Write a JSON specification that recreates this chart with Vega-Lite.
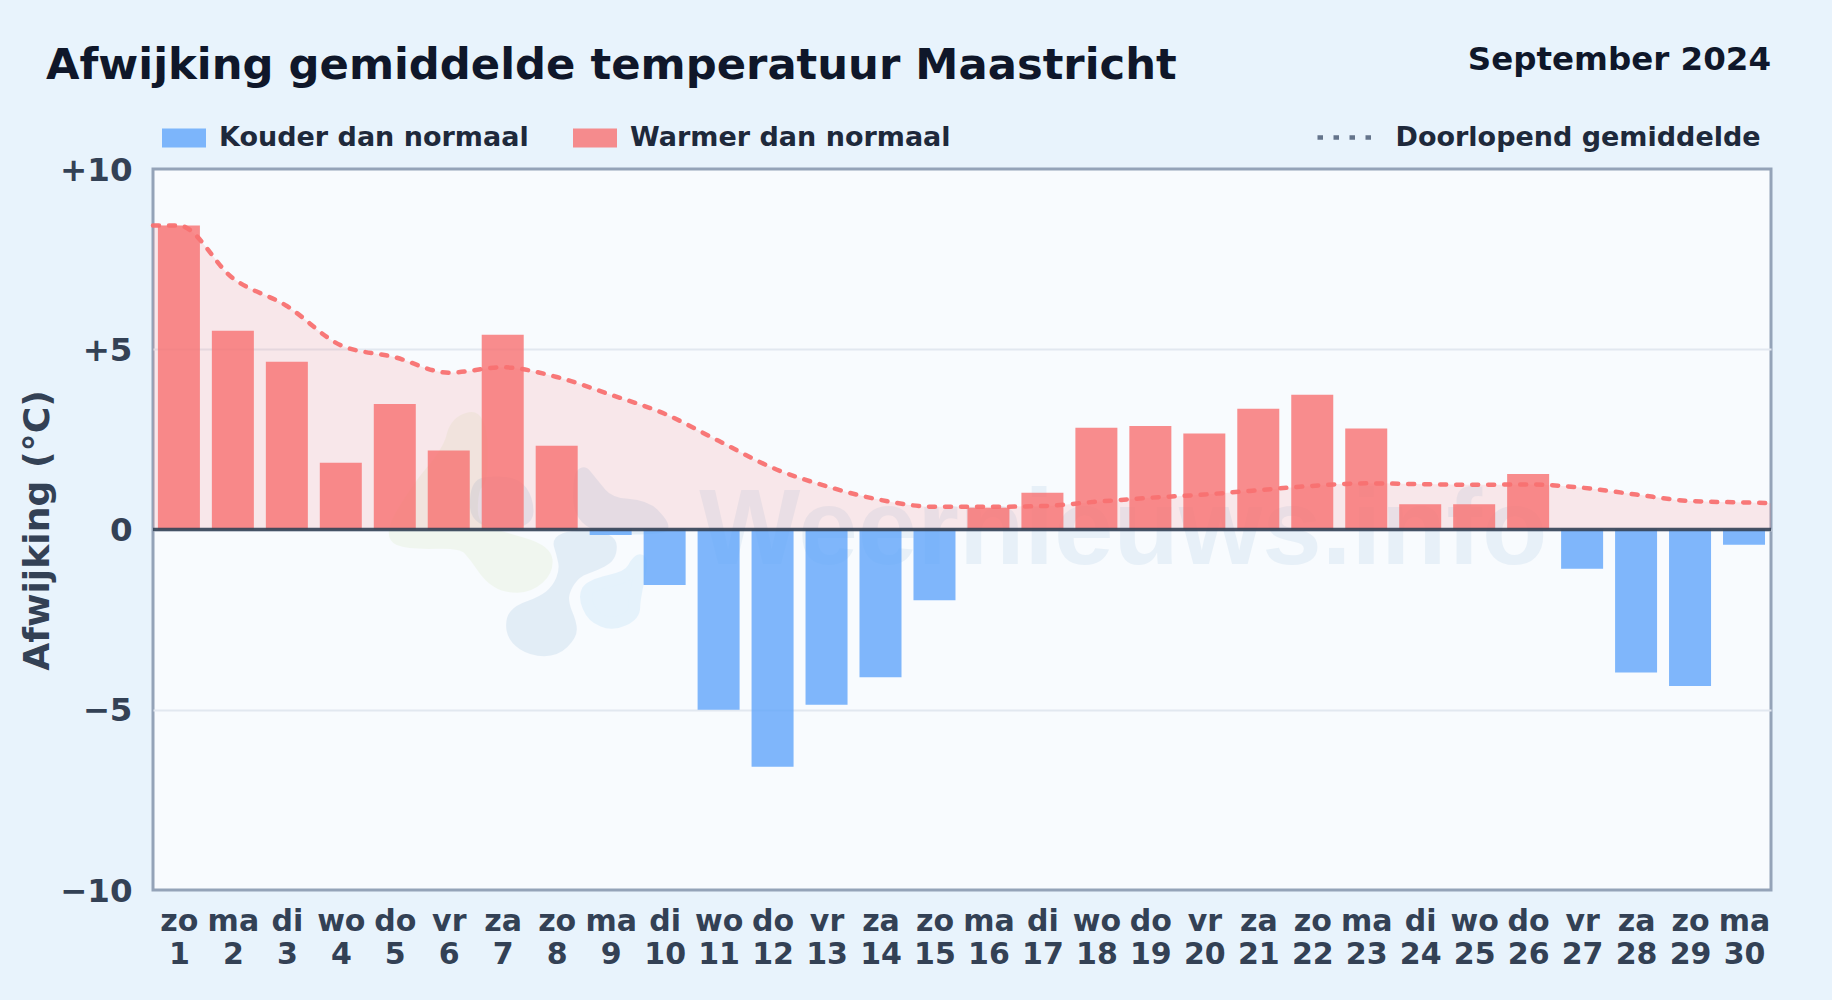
{
"$schema":"https://vega.github.io/schema/vega-lite/v6.json",
"autosize":{"type":"none"},
"width":1618,"height":721,
"padding":{"left":153,"top":169,"right":61,"bottom":110},
"background":"#e8f3fc",
"view":{"fill":"#f8fbfe","stroke":"#94a3b8","strokeWidth":3},
"title":{"text":"Afwijking gemiddelde temperatuur Maastricht","anchor":"start","frame":"group","dx":-107,"dy":79,"baseline":"alphabetic","offset":0,"font":"DejaVu Sans","fontSize":43.3,"fontWeight":"bold","color":"#0f172a"},
"datasets":{
"days":[
{"day":1,"dow":"zo","afwijking":8.43,"soort":"Warmer dan normaal"},
{"day":2,"dow":"ma","afwijking":5.51,"soort":"Warmer dan normaal"},
{"day":3,"dow":"di","afwijking":4.65,"soort":"Warmer dan normaal"},
{"day":4,"dow":"wo","afwijking":1.85,"soort":"Warmer dan normaal"},
{"day":5,"dow":"do","afwijking":3.48,"soort":"Warmer dan normaal"},
{"day":6,"dow":"vr","afwijking":2.19,"soort":"Warmer dan normaal"},
{"day":7,"dow":"za","afwijking":5.4,"soort":"Warmer dan normaal"},
{"day":8,"dow":"zo","afwijking":2.32,"soort":"Warmer dan normaal"},
{"day":9,"dow":"ma","afwijking":-0.15,"soort":"Kouder dan normaal"},
{"day":10,"dow":"di","afwijking":-1.54,"soort":"Kouder dan normaal"},
{"day":11,"dow":"wo","afwijking":-5.0,"soort":"Kouder dan normaal"},
{"day":12,"dow":"do","afwijking":-6.58,"soort":"Kouder dan normaal"},
{"day":13,"dow":"vr","afwijking":-4.86,"soort":"Kouder dan normaal"},
{"day":14,"dow":"za","afwijking":-4.1,"soort":"Kouder dan normaal"},
{"day":15,"dow":"zo","afwijking":-1.96,"soort":"Kouder dan normaal"},
{"day":16,"dow":"ma","afwijking":0.6,"soort":"Warmer dan normaal"},
{"day":17,"dow":"di","afwijking":1.02,"soort":"Warmer dan normaal"},
{"day":18,"dow":"wo","afwijking":2.82,"soort":"Warmer dan normaal"},
{"day":19,"dow":"do","afwijking":2.87,"soort":"Warmer dan normaal"},
{"day":20,"dow":"vr","afwijking":2.66,"soort":"Warmer dan normaal"},
{"day":21,"dow":"za","afwijking":3.35,"soort":"Warmer dan normaal"},
{"day":22,"dow":"zo","afwijking":3.74,"soort":"Warmer dan normaal"},
{"day":23,"dow":"ma","afwijking":2.8,"soort":"Warmer dan normaal"},
{"day":24,"dow":"di","afwijking":0.7,"soort":"Warmer dan normaal"},
{"day":25,"dow":"wo","afwijking":0.7,"soort":"Warmer dan normaal"},
{"day":26,"dow":"do","afwijking":1.54,"soort":"Warmer dan normaal"},
{"day":27,"dow":"vr","afwijking":-1.09,"soort":"Kouder dan normaal"},
{"day":28,"dow":"za","afwijking":-3.97,"soort":"Kouder dan normaal"},
{"day":29,"dow":"zo","afwijking":-4.34,"soort":"Kouder dan normaal"},
{"day":30,"dow":"ma","afwijking":-0.42,"soort":"Kouder dan normaal"}
],
"mean":[
{"day":0.52,"gemiddelde":8.43},{"day":1,"gemiddelde":8.43},{"day":2,"gemiddelde":6.97},{"day":3,"gemiddelde":6.2},{"day":4,"gemiddelde":5.11},{"day":5,"gemiddelde":4.78},{"day":6,"gemiddelde":4.35},{"day":7,"gemiddelde":4.5},{"day":8,"gemiddelde":4.23},{"day":9,"gemiddelde":3.74},{"day":10,"gemiddelde":3.21},{"day":11,"gemiddelde":2.46},{"day":12,"gemiddelde":1.71},{"day":13,"gemiddelde":1.2},{"day":14,"gemiddelde":0.82},{"day":15,"gemiddelde":0.63},{"day":16,"gemiddelde":0.63},{"day":17,"gemiddelde":0.65},{"day":18,"gemiddelde":0.77},{"day":19,"gemiddelde":0.88},{"day":20,"gemiddelde":0.97},{"day":21,"gemiddelde":1.09},{"day":22,"gemiddelde":1.21},{"day":23,"gemiddelde":1.28},{"day":24,"gemiddelde":1.26},{"day":25,"gemiddelde":1.24},{"day":26,"gemiddelde":1.25},{"day":27,"gemiddelde":1.16},{"day":28,"gemiddelde":0.97},{"day":29,"gemiddelde":0.79},{"day":30,"gemiddelde":0.75},{"day":30.5,"gemiddelde":0.73}
]
},
"layer":[
{"data":{"values":[{"day":7.86,"v":-0.48}]},
 "mark":{"type":"point","filled":true,"size":0.4444,"opacity":0.1,"fill":"#b2d373","stroke":"#b2d373","strokeWidth":12,"strokeJoin":"round","shape":"M-242,-385Q-205,-395,-202,-298Q-200,-200,-215,-190Q-230,-180,-232,-120Q-235,-60,-192,-45Q-150,-30,-80,-10Q-10,10,-8,40Q-5,70,-32,95Q-60,120,-95,120Q-130,120,-155,105Q-180,90,-200,60Q-220,30,-240,8Q-260,-15,-340,-12Q-420,-10,-450,-22Q-480,-35,-440,-102Q-400,-170,-350,-230Q-300,-290,-290,-332Q-280,-375,-242,-385Z"},
 "encoding":{"x":{"field":"day","type":"quantitative"},"y":{"field":"v","type":"quantitative"}}},
{"data":{"values":[{"day":7.86,"v":-0.48}]},
 "mark":{"type":"point","filled":true,"size":0.4444,"opacity":0.1,"fill":"#3079b9","stroke":"#3079b9","strokeWidth":12,"strokeJoin":"round","shape":"M-200,-188Q-180,-195,-140,-192Q-100,-190,-82,-165Q-65,-140,-65,-105Q-65,-70,-142,-72Q-220,-75,-220,-128Q-220,-180,-200,-188ZM110,-215Q130,-190,155,-160Q180,-130,235,-126Q290,-122,315,-96Q340,-70,340,-62Q340,-55,215,-55Q90,-55,90,-148Q90,-240,110,-215ZM105,-30Q185,-30,185,0Q185,30,160,42Q135,55,108,65Q80,75,62,100Q45,125,42,148Q40,170,52,200Q65,230,65,248Q65,265,42,288Q20,310,-15,310Q-50,310,-78,292Q-105,275,-110,248Q-114,220,-102,205Q-90,190,-55,178Q-20,165,2,148Q25,130,38,100Q50,70,45,45Q40,20,32,-5Q25,-30,105,-30Z"},
 "encoding":{"x":{"field":"day","type":"quantitative"},"y":{"field":"v","type":"quantitative"}}},
{"data":{"values":[{"day":7.86,"v":-0.48}]},
 "mark":{"type":"point","filled":true,"size":0.4444,"opacity":0.1,"fill":"#44abeb","stroke":"#44abeb","strokeWidth":12,"strokeJoin":"round","shape":"M115,132Q125,115,182,102Q240,90,252,65Q265,40,272,40Q280,40,268,100Q255,160,255,182Q255,205,222,220Q190,235,160,222Q130,210,118,180Q105,150,115,132Z"},
 "encoding":{"x":{"field":"day","type":"quantitative"},"y":{"field":"v","type":"quantitative"}}},
{"data":{"values":[{"label":"Weernieuws.info","day":18.5,"v":-0.06}]},
 "mark":{"type":"text","font":"Liberation Sans","fontWeight":"bold","fontSize":107,"align":"center","baseline":"middle","color":"#3079b9","opacity":0.08},
 "encoding":{"x":{"field":"day","type":"quantitative"},"y":{"field":"v","type":"quantitative"},"text":{"field":"label"}}},
{"data":{"name":"mean"},
 "mark":{"type":"area","interpolate":"monotone","fill":"#f87171","opacity":0.14},
 "encoding":{"x":{"field":"day","type":"quantitative"},"y":{"field":"gemiddelde","type":"quantitative"},"y2":{"datum":0}}},
{"data":{"name":"days"},
 "mark":{"type":"bar","size":42,"opacity":0.8},
 "encoding":{
  "x":{"field":"day","type":"quantitative","title":null,
   "scale":{"domain":[0.52,30.5],"nice":false,"zero":false,"padding":0},
   "axis":{"values":[1,2,3,4,5,6,7,8,9,10,11,12,13,14,15,16,17,18,19,20,21,22,23,24,25,26,27,28,29,30],
    "labelExpr":"[['zo','ma','di','wo','do','vr','za'][(datum.value-1)%7], ''+datum.value]",
    "grid":false,"ticks":false,"domain":false,"labelFont":"DejaVu Sans","labelFontSize":30,"labelFontWeight":"bold","labelColor":"#334155","labelPadding":16,"labelOverlap":false,"labelBound":false,"labelFlush":false,"labelBaseline":"top","encoding":{"labels":{"lineHeight":{"value":33}}}}},
  "y":{"field":"afwijking","type":"quantitative","title":"Afwijking (°C)",
   "scale":{"domain":[-10,10],"nice":false},
   "axis":{"values":[-10,-5,0,5,10],"labelExpr":"datum.value>0?'+'+datum.value:(datum.value<0?'−'+(-datum.value):'0')",
    "grid":true,"gridColor":"#e2e8f0","gridWidth":2,"gridOpacity":{"condition":{"test":"abs(datum.value)==10","value":0},"value":1},"ticks":false,"domain":false,"labelFont":"DejaVu Sans","labelFontSize":32.5,"labelFontWeight":"bold","labelColor":"#334155","labelPadding":21,"labelOffset":1,"labelOverlap":false,"labelBound":false,"titleFont":"DejaVu Sans","titleFontSize":36.2,"titleFontWeight":"bold","titleColor":"#334155","titleX":-96.5,"titleY":361}},
  "color":{"field":"soort","type":"nominal","title":null,
   "scale":{"domain":["Kouder dan normaal","Warmer dan normaal"],"range":["#60a5fa","#f87171"]},
   "legend":{"orient":"none","legendX":8,"legendY":-54,"direction":"horizontal","columns":2,"columnPadding":43,"symbolType":"M-1,-0.43H1V0.43H-1Z","symbolSize":1936,"labelFont":"DejaVu Sans","labelFontSize":27,"labelFontWeight":"bold","labelColor":"#1e293b","labelOffset":12,"labelLimit":800}}
 }},
{"data":{"values":[{"nul":0}]},
 "mark":{"type":"rule","color":"#334155","strokeWidth":3.4,"opacity":0.9},
 "encoding":{"y":{"field":"nul","type":"quantitative"}}},
{"data":{"name":"mean"},
 "mark":{"type":"line","interpolate":"monotone","stroke":"#f87171","strokeWidth":4.5,"strokeDash":[6,10],"strokeCap":"round","opacity":0.95},
 "encoding":{"x":{"field":"day","type":"quantitative"},"y":{"field":"gemiddelde","type":"quantitative"}}},
{"data":{"values":[]},
 "mark":{"type":"line","strokeWidth":4.5,"strokeDash":[5.5,10.5]},
 "encoding":{"x":{"field":"day","type":"quantitative"},"y":{"field":"gemiddelde","type":"quantitative"},
  "stroke":{"datum":"Doorlopend gemiddelde","title":null,"scale":{"domain":["Doorlopend gemiddelde"],"range":["#64748b"]},
   "legend":{"orient":"none","legendX":1162,"legendY":-62,"symbolType":"stroke","symbolSize":3136,"symbolDash":[5.5,10.5],"symbolStrokeWidth":4.5,"labelFont":"DejaVu Sans","labelFontSize":27,"labelFontWeight":"bold","labelColor":"#1e293b","labelOffset":19.5,"labelLimit":800}}}},
{"data":{"values":[{"label":"September 2024","day":30.5,"v":13.03}]},
 "mark":{"type":"text","font":"DejaVu Sans","fontWeight":"bold","fontSize":32.5,"align":"right","baseline":"middle","color":"#0f172a"},
 "encoding":{"x":{"field":"day","type":"quantitative"},"y":{"field":"v","type":"quantitative"},"text":{"field":"label"}}}
]
}
